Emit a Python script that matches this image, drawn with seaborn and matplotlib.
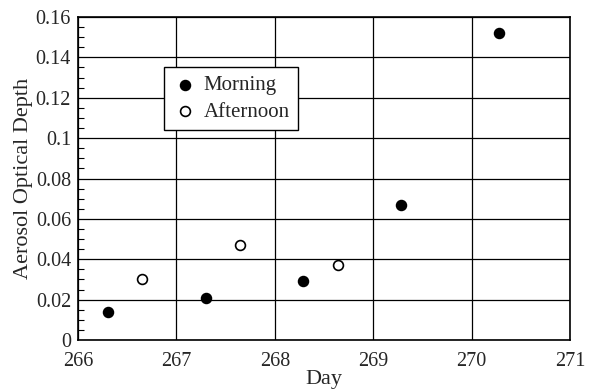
import matplotlib
matplotlib.use("Agg")
import matplotlib.pyplot as plt
from matplotlib.ticker import MultipleLocator
import seaborn as sns
import pandas as pd

morning_days = [266.30, 267.30, 268.29, 269.28, 270.28]
morning_aod = [0.014, 0.021, 0.029, 0.067, 0.152]
afternoon_days = [266.65, 267.65, 268.64]
afternoon_aod = [0.030, 0.047, 0.037]
series_names = ["Morning", "Afternoon"]

df = pd.DataFrame({
    "Day": morning_days + afternoon_days,
    "AOD": morning_aod + afternoon_aod,
    "Series": [series_names[0]] * len(morning_days) + [series_names[1]] * len(afternoon_days),
})

sns.set_theme(style="white")
plt.rcParams["font.family"] = ["Liberation Serif", "DejaVu Serif"]

fig = plt.figure(figsize=(6.02, 3.91), dpi=100)
ax = fig.add_axes([78 / 602, 1 - 340 / 391, 492 / 602, 323 / 391])

for name, fc in zip(series_names, ["black", "white"]):
    sub = df[df["Series"] == name]
    sns.scatterplot(data=sub, x="Day", y="AOD", ax=ax, s=50, marker="o",
                    color=fc, edgecolor="black", linewidth=1.2, label=name, zorder=3)

ax.set_xlim(266, 271)
ax.set_ylim(0, 0.16)
ax.yaxis.set_minor_locator(MultipleLocator(0.005))
ax.set_xticks(range(266, 272))
ax.set_xticklabels([str(v) for v in range(266, 272)])
yt = [i * 0.02 for i in range(9)]
ax.set_yticks(yt)
ax.set_yticklabels(["0", "0.02", "0.04", "0.06", "0.08", "0.1", "0.12", "0.14", "0.16"])
ax.grid(True, which="major", color="black", linewidth=0.9)
ax.tick_params(axis="both", which="major", length=0, labelsize=14.5)
ax.tick_params(axis="x", which="major", pad=9)
ax.tick_params(axis="y", which="major", pad=5)
ax.tick_params(axis="y", which="minor", left=True, direction="in", length=4, width=0.8, color="black")
for sp in ax.spines.values():
    sp.set_color("black")
    sp.set_linewidth(1.2)
ax.set_xlabel("Day", fontsize=16, labelpad=-1)
ax.set_ylabel("Aerosol Optical Depth", fontsize=16, labelpad=2)

leg = ax.legend(loc="upper left", bbox_to_anchor=(0.175, 0.845), frameon=True, fancybox=False,
                edgecolor="black", framealpha=1, fontsize=15, handletextpad=0.3,
                borderpad=0.4, labelspacing=0.35, handlelength=1.2, borderaxespad=0)
leg.get_frame().set_linewidth(1.0)

fig.savefig("out.png", dpi=100)
